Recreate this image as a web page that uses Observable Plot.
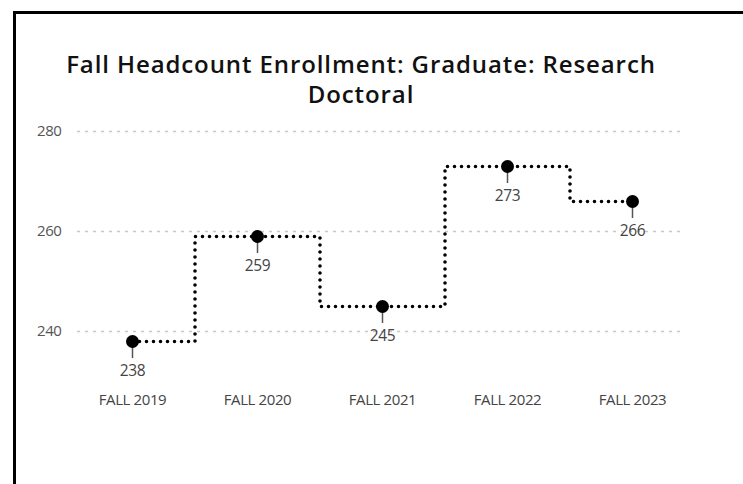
<!DOCTYPE html>
<html>
<head>
<meta charset="utf-8">
<script src="https://cdn.jsdelivr.net/npm/d3@7"></script>
<script src="https://cdn.jsdelivr.net/npm/@observablehq/plot@0.6"></script>
<style>
  html, body { margin: 0; padding: 0; width: 743px; height: 484px; overflow: hidden; background: #fff; }
  #frame { position: absolute; left: 13px; top: 11px; width: 900px; height: 700px; border: 3px solid #000; box-sizing: border-box; }
  #title { position: absolute; left: 0; top: 0; width: 722px; height: 115px; box-sizing: border-box; padding-top: 49px;
           text-align: center; font-family: "Open Sans", sans-serif; font-weight: 600; font-size: 24px; line-height: 30px;
           letter-spacing: 0.9px; color: #111; }
  #chart { position: absolute; left: 0; top: 115px; }
</style>
</head>
<body>
<div id="frame"></div>
<div id="title">Fall Headcount Enrollment: Graduate: Research<br>Doctoral</div>
<div id="chart"></div>
<script>
const categories = ["FALL 2019", "FALL 2020", "FALL 2021", "FALL 2022", "FALL 2023"];
const values = [238, 259, 245, 273, 266];
const yTicks = [240, 260, 280];

const data = categories.map((c, i) => ({cat: c, v: values[i]}));

const chart = Plot.plot({
  width: 743,
  height: 369,
  marginLeft: 77,
  marginRight: 63,
  marginTop: 0,
  marginBottom: 99,
  style: {fontFamily: "'Open Sans', sans-serif", background: "transparent", letterSpacing: "-0.4px"},
  x: {type: "point", domain: categories, range: [130, 633], padding: 0},
  y: {domain: [240, 280], range: [216, 16]},
  marks: [
    Plot.ruleY(yTicks, {stroke: "#c8c8c8", strokeWidth: 1.3, strokeDasharray: "3,5"}),
    Plot.axisY({ticks: yTicks, tickSize: 0, tickPadding: 16, fontSize: 15, color: "#555", label: null}),
    Plot.axisX({tickSize: 0, tickPadding: 9, fontSize: 15, color: "#444", label: null}),
    Plot.line(data, {x: "cat", y: "v", curve: "step", stroke: "#000", strokeWidth: 3.6,
                     strokeDasharray: "0,7", strokeLinecap: "round"}),
    Plot.ruleX(data, {x: "cat", y1: d => d.v - 0.8, y2: d => d.v - 3.4, stroke: "#555", strokeWidth: 1.5}),
    Plot.dot(data, {x: "cat", y: "v", r: 6.5, fill: "#000", stroke: "none"}),
    Plot.text(data, {x: "cat", y: "v", text: d => String(d.v), dy: 30, fontSize: 15.5, fill: "#444"})
  ]
});
document.getElementById("chart").appendChild(chart);
</script>
</body>
</html>
